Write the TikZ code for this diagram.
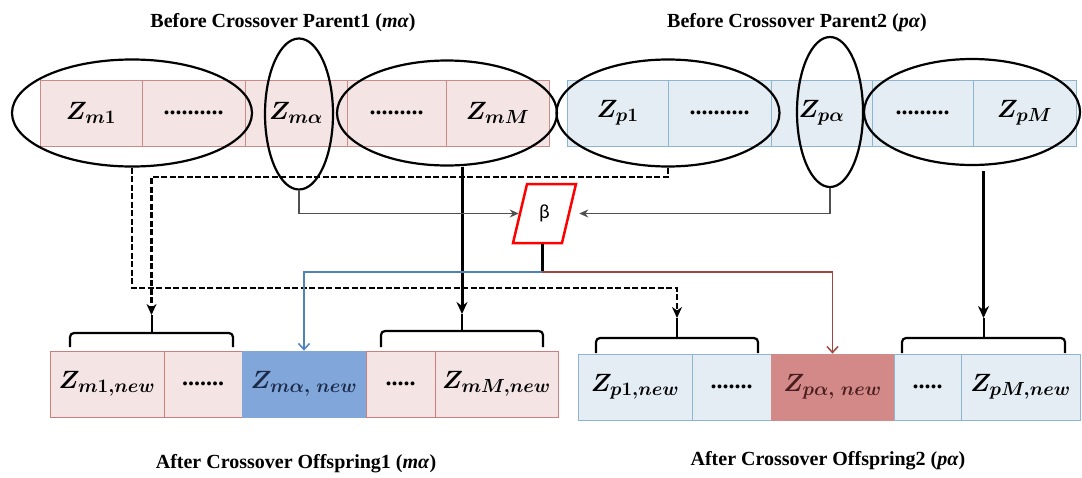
\RequirePackage{fix-cm}
\documentclass[tikz,border=0pt]{standalone}
\usepackage[no-math]{fontspec}
\setmainfont{Liberation Serif}
\newfontfamily\betafont{Carlito}
\usetikzlibrary{shapes.geometric,arrows.meta,calc}
\DeclareMathSizes{25}{25}{19}{14}
\newcommand\zlabfont{\fontsize{25}{28}\selectfont\boldmath}
\newcommand\dotsfont{\fontsize{24}{24}\selectfont\bfseries}
\definecolor{pinkfill}{HTML}{F4E4E4}
\definecolor{pinkline}{HTML}{C98A8A}
\definecolor{bluefill}{HTML}{E4EDF4}
\definecolor{blueline}{HTML}{8DB6CE}
\definecolor{midblue}{HTML}{80A6DA}
\definecolor{midred}{HTML}{D48989}
\definecolor{arrowblue}{HTML}{4F81BD}
\definecolor{arrowred}{HTML}{A0453F}
\definecolor{navytext}{HTML}{1C2B4A}
\definecolor{redtext}{HTML}{4A1E1E}
\definecolor{connector}{HTML}{505050}
\tikzset{
  cellP/.style={draw=pinkline, fill=pinkfill, line width=0.8pt, minimum height=66pt, inner sep=0pt, font=\zlabfont},
  cellQ/.style={draw=blueline, fill=bluefill, line width=0.8pt, minimum height=66pt, inner sep=0pt, font=\zlabfont},
  oval/.style={ellipse, draw=black, line width=2.2pt, inner sep=0pt},
  title/.style={font=\fontsize{20}{24}\selectfont\bfseries},
  dashline/.style={draw=black, line width=2.4pt, dash pattern=on 6pt off 2.5pt, -{Stealth[length=11pt,width=10pt,inset=3.5pt]}},
  boldline/.style={draw=black, line width=3pt, -{Stealth[length=12pt,width=11pt,inset=4pt]}},
  thinarrow/.style={draw=connector, line width=1.3pt, -{Stealth[length=9pt,width=8pt]}},
  colarrow/.style={line width=1.5pt, -{Straight Barb[length=6pt,width=11pt]}},
  bracketline/.style={draw=black, line width=2.2pt, rounded corners=4pt},
  stemline/.style={draw=black, line width=2pt},
}
\begin{document}
\begin{tikzpicture}[x=1pt,y=-1pt]
\useasboundingbox (0,0) rectangle (1082,477);

% titles
\node[title] (t1) at (283,23) {Before Crossover Parent1 (\textit{mα})};
\node[title] (t2) at (797,23) {Before Crossover Parent2 (\textit{pα})};
\node[title] (t3) at (296,464) {After Crossover Offspring1 (\textit{mα})};
\node[title] (t4) at (828,461) {After Crossover Offspring2 (\textit{pα})};

% parent 1 cells
\node[cellP, minimum width=102pt] (c11) at (91,113) {$Z_{m1}$};
\node[cellP, minimum width=103pt] (c12) at (193.5,113) {\dotsfont ..........};
\node[cellP, minimum width=102pt] (c13) at (296,113) {$Z_{m\alpha}$};
\node[cellP, minimum width=99pt] (c14) at (396.5,113) {\dotsfont .........};
\node[cellP, minimum width=103pt] (c15) at (497.5,113) {$Z_{mM}$};

% parent 2 cells
\node[cellQ, minimum width=101pt] (c21) at (617.5,113) {$Z_{p1}$};
\node[cellQ, minimum width=103pt] (c22) at (719.5,113) {\dotsfont ..........};
\node[cellQ, minimum width=101pt] (c23) at (821.5,113) {$Z_{p\alpha}$};
\node[cellQ, minimum width=101pt] (c24) at (922.5,113) {\dotsfont .........};
\node[cellQ, minimum width=103pt] (c25) at (1024.5,113) {$Z_{pM}$};

% offspring 1 cells
\node[cellP, draw=pinkline!90!red, minimum width=114pt] (o11) at (107,384) {$Z_{m1,new}$};
\node[cellP, draw=pinkline!90!red, minimum width=78pt] (o12) at (203,384) {\dotsfont .......};
\node[cellP, draw=midblue, fill=midblue, text=navytext, minimum width=124pt] (o13) at (304,384) {$Z_{m\alpha,\ new}$};
\node[cellP, draw=pinkline!90!red, minimum width=69pt] (o14) at (400.5,384) {\dotsfont .....};
\node[cellP, draw=pinkline!90!red, minimum width=123pt] (o15) at (496.5,384) {$Z_{mM,new}$};

% offspring 2 cells
\node[cellQ, minimum width=114pt] (o21) at (635,387) {$Z_{p1,new}$};
\node[cellQ, minimum width=79pt] (o22) at (731.5,387) {\dotsfont .......};
\node[cellQ, draw=midred, fill=midred, text=redtext, minimum width=123pt] (o23) at (832.5,387) {$Z_{p\alpha,\ new}$};
\node[cellQ, minimum width=67pt] (o24) at (927.5,387) {\dotsfont .....};
\node[cellQ, minimum width=119pt] (o25) at (1020.5,387) {$Z_{pM,new}$};

% ellipses
\node[oval, minimum width=240pt, minimum height=107pt] (e1) at (132,113) {};
\node[oval, minimum width=68pt, minimum height=151pt] (e2) at (299,114) {};
\node[oval, minimum width=220pt, minimum height=105pt] (e3) at (447,113) {};
\node[oval, minimum width=223pt, minimum height=107pt] (e4) at (668,113) {};
\node[oval, minimum width=66pt, minimum height=150pt] (e5) at (830,112) {};
\node[oval, minimum width=216pt, minimum height=106pt] (e6) at (972,112) {};

% beta
\node[trapezium, trapezium left angle=76, trapezium right angle=104, trapezium stretches=true,
      minimum width=63pt, minimum height=59pt, draw=red, line width=2.5pt, fill=white, inner sep=0pt,
      font=\betafont\fontsize{20}{24}\selectfont] (beta) at (544.5,213.5) {β};

% brackets (stem tops are the arrow targets)
\coordinate (k1) at (151.5,315);
\coordinate (k3) at (462,314);
\coordinate (k2) at (677,318);
\coordinate (k4) at (983.5,318);
\draw[bracketline] (70,347) -- (70,333) -- (233,333) -- (233,347);
\draw[stemline] (151.5,333) -- (k1);
\draw[bracketline] (381,347) -- (381,331) -- (543,331) -- (543,347);
\draw[stemline] (462,331) -- (k3);
\draw[bracketline] (596,353) -- (596,338) -- (758,338) -- (758,353);
\draw[stemline] (677,338) -- (k2);
\draw[bracketline] (902,353) -- (902,338) -- (1065,338) -- (1065,353);
\draw[stemline] (983.5,338) -- (k4);

% dashed connectors
\coordinate (a1) at (151.5,177);
\coordinate (b1) at (132,288);
\draw[dashline] (e4.south) |- (a1) -- (k1);
\draw[dashline] (e1.south) -- (b1) -| (k2);

% bold connectors
\draw[boldline] (e3.south -| k3) -- (k3);
\draw[boldline] ($(e6.south -| k4)+(0,5)$) -- (k4);

% into beta
\draw[thinarrow] (e2.south) |- (beta.west);
\draw[thinarrow, shorten >=9pt] (e5.south) |- (beta.east);

% out of beta
\coordinate (j) at (542,272);
\draw[black, line width=3pt] (j |- beta.south) -- (j);
\draw[colarrow, draw=arrowblue] (j) -| (o13.north);
\draw[colarrow, draw=arrowred] (j) -| (o23.north);
\end{tikzpicture}
\end{document}
